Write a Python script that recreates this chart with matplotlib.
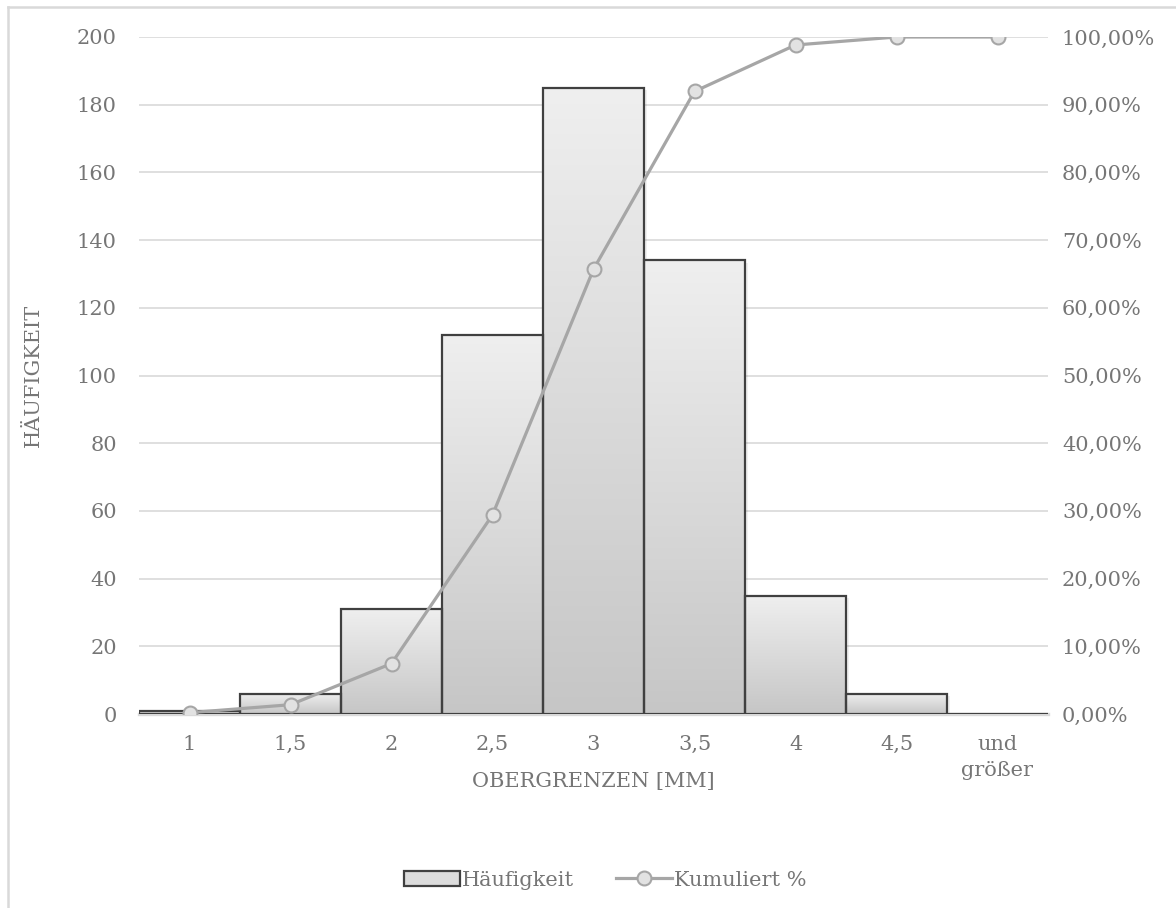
import numpy as np
import matplotlib
matplotlib.use("Agg")
import matplotlib.pyplot as plt
from matplotlib.colors import LinearSegmentedColormap
from matplotlib.patches import Patch
from matplotlib.lines import Line2D
from matplotlib.ticker import FuncFormatter, MultipleLocator

# Klassen und Häufigkeiten
klassen = ["1", "1,5", "2", "2,5", "3", "3,5", "4", "4,5", "und\ngrößer"]
haeufigkeit = [1, 6, 31, 112, 185, 134, 35, 6, 0]
kumuliert = [0.20, 1.37, 7.45, 29.41, 65.69, 91.96, 98.82, 100.0, 100.0]

plt.rcParams['font.family'] = ['DejaVu Serif']
txt = '#767676'
grid = '#d9d9d9'
fs = 15

W, H = 1176, 908
fig = plt.figure(figsize=(W / 100, H / 100), dpi=100)
ax = fig.add_axes([139 / W, (H - 714) / H, (1048 - 139) / W, (714 - 37) / H])
ax2 = ax.twinx()

x = np.arange(len(klassen))
bars = ax.bar(x, haeufigkeit, width=1.0, facecolor='none', edgecolor='#404040',
              linewidth=1.6, zorder=3)

# Farbverlauf in jedem Balken (oben hell, unten dunkler)
cmap = LinearSegmentedColormap.from_list('grau', ['#c6c6c6', '#efefef'])
grad = np.linspace(0, 1, 256).reshape(-1, 1)
for b in bars:
    h = b.get_height()
    if h <= 0:
        continue
    # leichter Schatten
    ax.add_patch(plt.Rectangle((b.get_x() + 0.03, 0), b.get_width(), h - 0.8,
                               facecolor='#000000', alpha=0.06, zorder=1.5, lw=0))
    im = ax.imshow(grad, extent=[b.get_x(), b.get_x() + b.get_width(), 0, h],
                   cmap=cmap, aspect='auto', origin='lower', zorder=2)
    im.set_clip_path(b)

ax.set_xlim(-0.5, len(klassen) - 0.5)
ax.set_ylim(0, 200)
ax.yaxis.set_major_locator(MultipleLocator(20))
ax.grid(axis='y', color=grid, linewidth=1.2, zorder=0)
ax.set_axisbelow(True)
ax.set_xticks(x)
ax.set_xticklabels(klassen, linespacing=1.5)

ax2.plot(x, kumuliert, color='#a6a6a6', linewidth=2.3, marker='o', markersize=10,
         markerfacecolor='#e2e2e2', markeredgecolor='#a6a6a6', markeredgewidth=1.5,
         zorder=5)
ax2.set_ylim(0, 100)
ax2.yaxis.set_major_locator(MultipleLocator(10))
ax2.yaxis.set_major_formatter(FuncFormatter(lambda v, p: f"{v:.2f}".replace('.', ',') + '%'))
ax2.set_zorder(ax.get_zorder() + 1)
ax2.patch.set_visible(False)

for a in (ax, ax2):
    for s in a.spines.values():
        s.set_visible(False)
    a.tick_params(length=0, labelsize=fs, labelcolor=txt)
ax.spines['bottom'].set_visible(True)
ax.spines['bottom'].set_color(grid)
ax.spines['bottom'].set_linewidth(2.4)
ax.tick_params(axis='y', pad=16)
ax.tick_params(axis='x', pad=15)
ax2.tick_params(axis='y', pad=10)
for lbl in ax2.get_yticklabels():
    lbl.set_horizontalalignment('left')

fig.text(33 / W, 1 - 375 / H, 'HÄUFIGKEIT', rotation=90, ha='center', va='center',
         fontsize=fs, color=txt)
fig.text(593 / W, 1 - 782 / H, 'OBERGRENZEN [MM]', ha='center', va='center',
         fontsize=fs, color=txt)

handles = [Patch(facecolor='#dcdcdc', edgecolor='#404040', linewidth=1.6),
           Line2D([0], [0], color='#a6a6a6', linewidth=2.3, marker='o', markersize=10,
                  markerfacecolor='#e2e2e2', markeredgecolor='#a6a6a6', markeredgewidth=1.5)]
fig.legend(handles, ['Häufigkeit', 'Kumuliert %'], loc='center',
           bbox_to_anchor=(605 / W, 1 - 880 / H), ncol=2, frameon=False,
           fontsize=fs, labelcolor=txt, handlelength=2.7, handletextpad=0.1,
           columnspacing=2.0)

# Rahmen des Diagrammbereichs
fig.add_artist(Line2D([8 / W, 8 / W], [0, 1 - 7 / H], color=grid, linewidth=1.8))
fig.add_artist(Line2D([8 / W, 1], [1 - 7 / H, 1 - 7 / H], color=grid, linewidth=1.8))

fig.savefig('out.png', dpi=100, facecolor='white')
